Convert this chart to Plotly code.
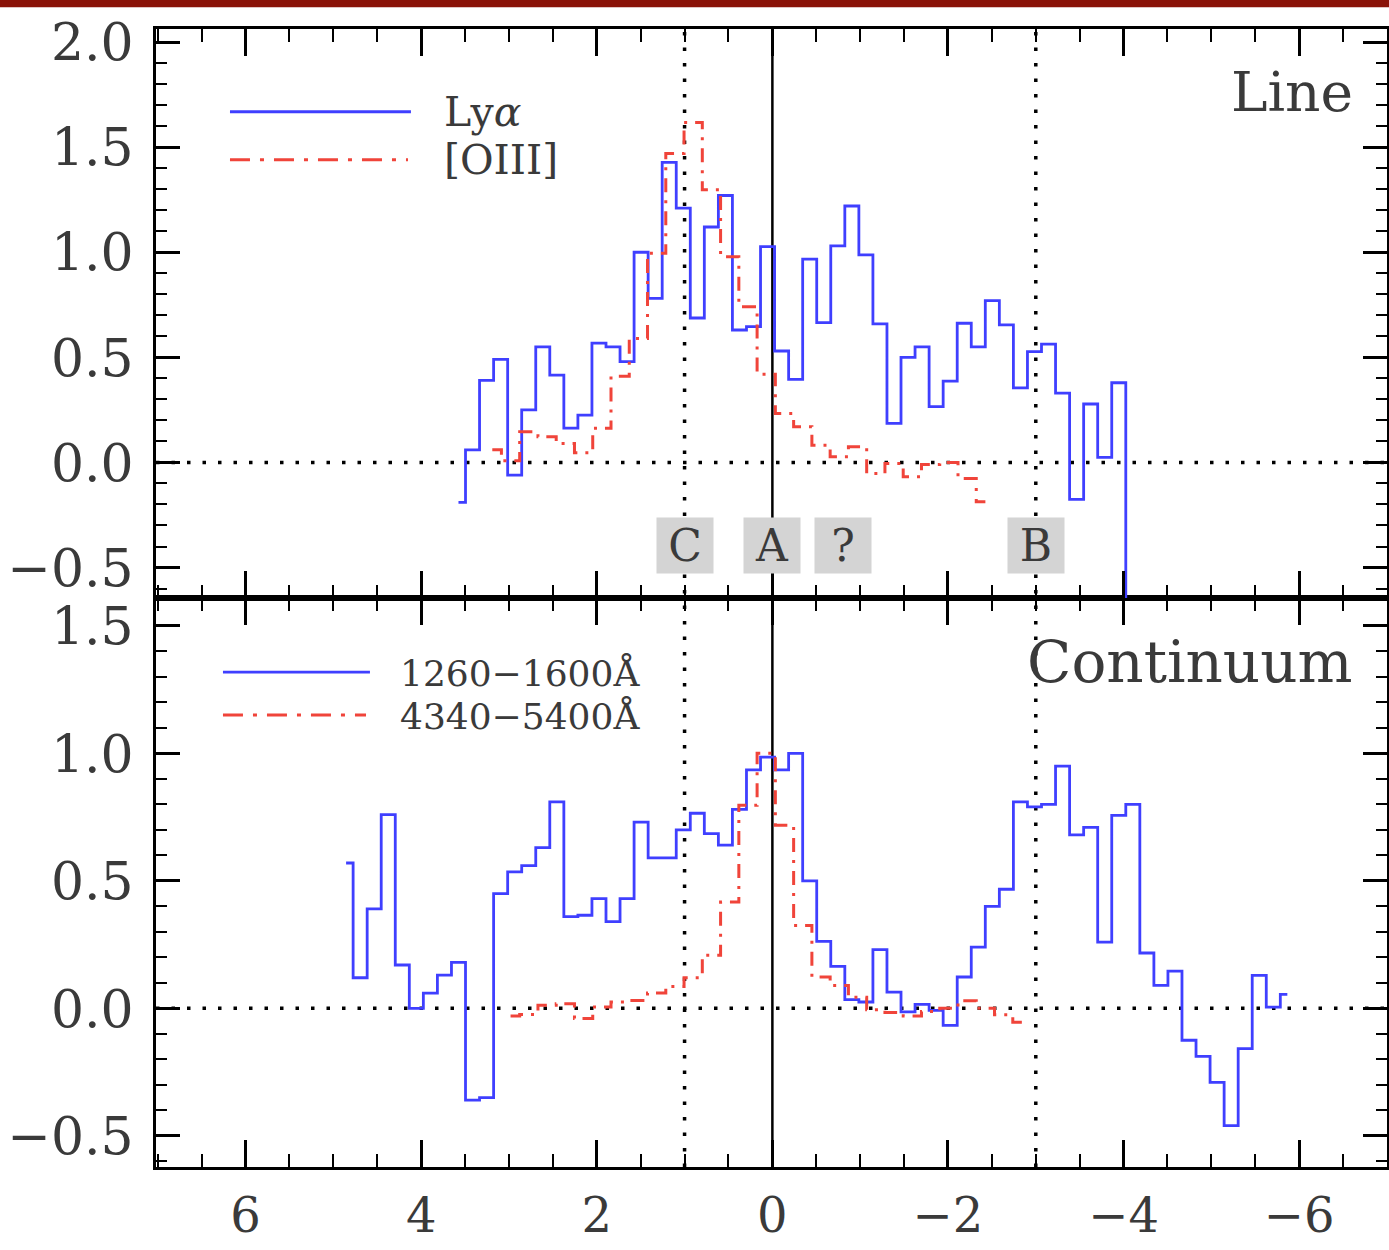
import plotly.graph_objects as go

# ---------------- data ----------------
# bin centres of the blue (UV/Ly-alpha) histograms, left to right
blue_x = [4.855, 4.695, 4.535, 4.375, 4.215, 4.055, 3.895, 3.735, 3.575, 3.415,
          3.255, 3.095, 2.935, 2.775, 2.615, 2.455, 2.295, 2.135, 1.975, 1.815,
          1.655, 1.495, 1.335, 1.175, 1.015, 0.855, 0.695, 0.535, 0.375, 0.215,
          0.055, -0.105, -0.265, -0.425, -0.585, -0.745, -0.905, -1.065, -1.225, -1.385,
          -1.545, -1.705, -1.865, -2.025, -2.185, -2.345, -2.505, -2.665, -2.825, -2.985,
          -3.145, -3.305, -3.465, -3.625, -3.785, -3.945, -4.105, -4.265, -4.425, -4.585,
          -4.745, -4.905, -5.065, -5.225, -5.385, -5.545, -5.705, -5.865]
# bin centres of the red (optical/[OIII]) histograms
red_x = [3.19, 2.982, 2.774, 2.566, 2.358, 2.15, 1.942, 1.734, 1.526, 1.318,
         1.11, 0.902, 0.694, 0.486, 0.278, 0.07, -0.138, -0.346, -0.554, -0.762,
         -0.97, -1.178, -1.386, -1.594, -1.802, -2.01, -2.218, -2.426, -2.634, -2.842]

# Top panel: Line
lya = [-0.19, 0.06, 0.39, 0.49, -0.06, 0.25, 0.55, 0.415, 0.163, 0.225,
       0.568, 0.55, 0.48, 1.0, 0.78, 1.427, 1.21, 0.687, 1.12, 1.27,
       0.63, 0.646, 1.027, 0.53, 0.395, 0.967, 0.665, 1.03, 1.22, 0.987,
       0.659, 0.186, 0.5, 0.55, 0.265, 0.387, 0.662, 0.55, 0.77, 0.654,
       0.355, 0.527, 0.563, 0.33, -0.176, 0.278, 0.024, 0.379, -1.5]
oiii = [0.06, 0.008, 0.146, 0.122, 0.09, 0.046, 0.162, 0.41, 0.59, 0.995,
        1.47, 1.617, 1.297, 0.979, 0.741, 0.42, 0.233, 0.17, 0.082, 0.027,
        0.074, -0.053, -0.005, -0.068, -0.01, 0.0, -0.076, -0.187]

# Bottom panel: Continuum
uv_cont = [0.57, 0.12, 0.39, 0.76, 0.17, 0.0, 0.06, 0.13, 0.18, -0.36,
           -0.35, 0.45, 0.535, 0.56, 0.63, 0.81, 0.36, 0.365, 0.43, 0.34,
           0.43, 0.73, 0.59, 0.59, 0.70, 0.765, 0.685, 0.64, 0.78, 0.935,
           0.985, 0.935, 1.0, 0.50, 0.263, 0.165, 0.034, 0.025, 0.23, 0.064,
           -0.014, 0.016, -0.008, -0.067, 0.123, 0.24, 0.40, 0.467, 0.81, 0.79,
           0.80, 0.95, 0.68, 0.71, 0.26, 0.757, 0.80, 0.217, 0.09, 0.146,
           -0.125, -0.188, -0.29, -0.46, -0.158, 0.129, 0.005, 0.055]
opt_cont = [-0.03, -0.024, 0.012, 0.018, -0.04, 0.005, 0.025, 0.031, 0.06, 0.086,
            0.12, 0.208, 0.417, 0.796, 1.0, 0.718, 0.325, 0.123, 0.09, 0.044,
            -0.005, -0.016, -0.03, -0.012, 0.0, 0.03, 0.0, -0.025, -0.054]

x_ticks = [6, 4, 2, 0, -2, -4, -6]
marker_labels = ["C", "A", "?", "B"]
marker_pos = [1.0, 0.0, -0.8, -3.0]
dotted_x = [1.0, -3.0]

# ---------------- style ----------------
BLUE = "#3f3fff"
RED = "#f0443a"
FONT = "DejaVu Serif"
TXT = "#3a3a3a"
DASHDOT = "14px,8px,3px,8px"
DOTS = "3.5px,12px"

fig = go.Figure()

# top panel traces
fig.add_trace(go.Scatter(x=blue_x[8:57], y=lya, xaxis="x2", yaxis="y2", mode="lines",
                         line=dict(shape="hvh", color=BLUE, width=2.8), showlegend=False))
fig.add_trace(go.Scatter(x=red_x[0:28], y=oiii, xaxis="x2", yaxis="y2", mode="lines",
                         line=dict(shape="hvh", color=RED, width=3, dash=DASHDOT), showlegend=False))
# bottom panel traces
fig.add_trace(go.Scatter(x=blue_x, y=uv_cont, xaxis="x", yaxis="y", mode="lines",
                         line=dict(shape="hvh", color=BLUE, width=2.8), showlegend=False))
fig.add_trace(go.Scatter(x=red_x[1:30], y=opt_cont, xaxis="x", yaxis="y", mode="lines",
                         line=dict(shape="hvh", color=RED, width=3, dash=DASHDOT), showlegend=False))

shapes = []
# horizontal dotted zero lines
shapes.append(dict(type="line", xref="x2 domain", yref="y2", x0=0, x1=1, y0=0, y1=0,
                   line=dict(color="black", width=3.5, dash=DOTS), layer="below"))
shapes.append(dict(type="line", xref="x domain", yref="y", x0=0, x1=1, y0=0, y1=0,
                   line=dict(color="black", width=3.5, dash=DOTS), layer="below"))
# vertical lines
shapes.append(dict(type="line", xref="x", yref="paper", x0=0, x1=0, y0=0, y1=1,
                   line=dict(color="black", width=2.5), layer="below"))
for xv in dotted_x:
    shapes.append(dict(type="line", xref="x", yref="paper", x0=xv, x1=xv, y0=0, y1=1,
                       line=dict(color="black", width=3.5, dash=DOTS), layer="below"))
# legend samples
shapes.append(dict(type="line", xref="paper", yref="paper", x0=0.0601, x1=0.2071, y0=0.9273, y1=0.9273,
                   line=dict(color=BLUE, width=2.8)))
shapes.append(dict(type="line", xref="paper", yref="paper", x0=0.0601, x1=0.2047, y0=0.8851, y1=0.8851,
                   line=dict(color=RED, width=3, dash="20px,10px,4px,10px")))
shapes.append(dict(type="line", xref="paper", yref="paper", x0=0.0544, x1=0.1738, y0=0.4349, y1=0.4349,
                   line=dict(color=BLUE, width=2.8)))
shapes.append(dict(type="line", xref="paper", yref="paper", x0=0.0544, x1=0.1706, y0=0.3971, y1=0.3971,
                   line=dict(color=RED, width=3, dash="20px,10px,4px,10px")))
# dark red banner at the very top
shapes.append(dict(type="rect", xref="paper", yref="paper", x0=-0.2, x1=1.1, y0=1.0192, y1=1.04,
                   fillcolor="#8a1208", line=dict(width=0)))

annotations = []
for lab, xv in zip(marker_labels, marker_pos):
    annotations.append(dict(x=xv, y=-0.396, xref="x2", yref="y2", text=lab, showarrow=False,
                            bgcolor="#d4d4d4", width=56, height=55, borderpad=0,
                            font=dict(family=FONT, size=44, color=TXT),
                            xanchor="center", yanchor="middle", valign="middle"))
annotations.append(dict(x=0.974, y=0.9448, xref="paper", yref="paper", text="Line", showarrow=False,
                        xanchor="right", yanchor="middle", font=dict(family=FONT, size=55, color=TXT)))
annotations.append(dict(x=0.974, y=0.4436, xref="paper", yref="paper", text="Continuum", showarrow=False,
                        xanchor="right", yanchor="middle", font=dict(family=FONT, size=58, color=TXT)))
annotations.append(dict(x=0.2323, y=0.9273, xref="paper", yref="paper", text="Ly<i>α</i>", showarrow=False,
                        xanchor="left", yanchor="middle", font=dict(family=FONT, size=41, color=TXT)))
annotations.append(dict(x=0.2323, y=0.8851, xref="paper", yref="paper", text="[OIII]", showarrow=False,
                        xanchor="left", yanchor="middle", font=dict(family=FONT, size=41, color=TXT)))
annotations.append(dict(x=0.1966, y=0.4335, xref="paper", yref="paper", text="1260−1600Å", showarrow=False,
                        xanchor="left", yanchor="middle", font=dict(family=FONT, size=36, color=TXT)))
annotations.append(dict(x=0.1966, y=0.3957, xref="paper", yref="paper", text="4340−5400Å", showarrow=False,
                        xanchor="left", yanchor="middle", font=dict(family=FONT, size=36, color=TXT)))

axis_common = dict(showline=True, linecolor="black", linewidth=3, mirror="allticks",
                   ticks="inside", tickcolor="black", showgrid=False, zeroline=False,
                   automargin=False)
YFONT = dict(family=FONT, size=52, color=TXT)
XFONT = dict(family=FONT, size=48, color=TXT)

fig.update_layout(
    width=1389, height=1250,
    margin=dict(l=156, r=2, t=29, b=83, autoexpand=False),
    paper_bgcolor="white", plot_bgcolor="white",
    showlegend=False,
    xaxis=dict(domain=[0, 1], anchor="y", range=[7.02, -7.0], tickmode="array", tickvals=x_ticks,
               ticklen=27, tickwidth=2.5, ticklabelstandoff=4, tickfont=XFONT,
               minor=dict(dtick=0.5, tick0=0, ticklen=13, tickwidth=2, ticks="inside", tickcolor="black"),
               **axis_common),
    xaxis2=dict(domain=[0, 1], anchor="y2", matches="x", range=[7.02, -7.0], tickmode="array",
                tickvals=x_ticks, showticklabels=False, ticklen=27, tickwidth=2.5, tickfont=XFONT,
                minor=dict(dtick=0.5, tick0=0, ticklen=13, tickwidth=2, ticks="inside", tickcolor="black"),
                **axis_common),
    yaxis=dict(domain=[0, 0.5], anchor="x", range=[-0.622, 1.609], tick0=0, dtick=0.5,
               tickformat=".1f", ticklen=24, tickwidth=2.5, ticklabelstandoff=9, tickfont=YFONT,
               minor=dict(dtick=0.1, tick0=0, ticklen=11, tickwidth=2, ticks="inside", tickcolor="black"),
               **axis_common),
    yaxis2=dict(domain=[0.5, 1], anchor="x2", range=[-0.645, 2.062], tick0=0, dtick=0.5,
                tickformat=".1f", ticklen=24, tickwidth=2.5, ticklabelstandoff=9, tickfont=YFONT,
                minor=dict(dtick=0.1, tick0=0, ticklen=11, tickwidth=2, ticks="inside", tickcolor="black"),
                **axis_common),
    shapes=shapes,
    annotations=annotations,
)

fig.write_html("out.html")
